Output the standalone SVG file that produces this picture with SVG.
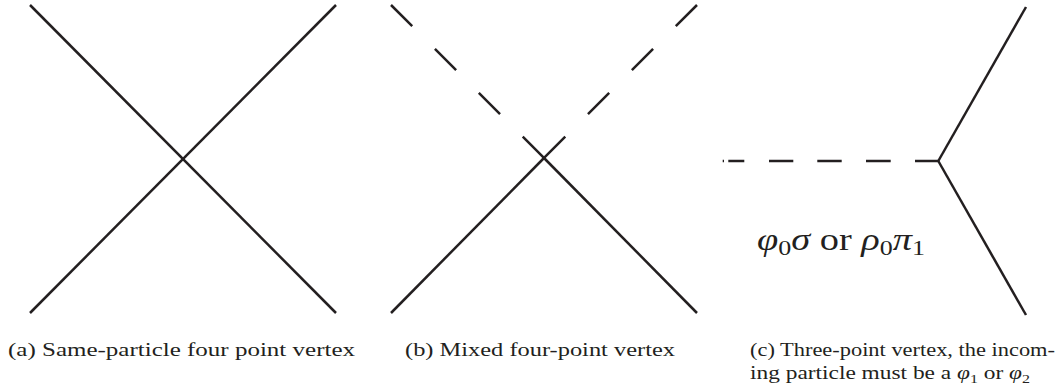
<svg xmlns="http://www.w3.org/2000/svg" width="1058" height="392" viewBox="0 0 1058 392">
<style>
.ln{stroke:#231f20;stroke-width:2.5;fill:none;stroke-linecap:butt}
.cap{font-family:"Liberation Serif","DejaVu Serif",serif;font-size:19px;fill:#231f20}
.lab{font-family:"Liberation Serif","DejaVu Serif",serif;font-size:31px;fill:#231f20}
.it{font-style:italic}
</style>
<rect width="1058" height="392" fill="#fff"/>
<g id="connectors">
  <g id="diagram-a">
    <path class="ln" d="M30 5 L336 313"/>
    <path class="ln" d="M336 5 L30 313"/>
  </g>
  <g id="diagram-b">
    <path class="ln" d="M391 5 L544 158" stroke-dasharray="30 32.1"/>
    <path class="ln" d="M697 5 L544 158" stroke-dasharray="30 32.1"/>
    <path class="ln" d="M544 158 L391 313"/>
    <path class="ln" d="M544 158 L697 313"/>
  </g>
  <g id="diagram-c">
    <path class="ln" d="M722.7 161 H724 M728.3 161 H744.3 M769 161 H793.3 M817.3 161 H841.7 M866 161 H890.7 M915 161 H938.3"/>
    <path class="ln" d="M938.3 161 L1026 7"/>
    <path class="ln" d="M938.3 161 L1026 315"/>
  </g>
</g>
<g id="label-c">
  <text class="lab" x="757" y="250" textLength="168" lengthAdjust="spacingAndGlyphs"><tspan class="it">φ</tspan><tspan font-size="21" dy="5">0</tspan><tspan class="it" dy="-5">σ</tspan> or <tspan class="it">ρ</tspan><tspan font-size="21" dy="5">0</tspan><tspan class="it" dy="-5">π</tspan><tspan font-size="21" dy="5">1</tspan></text>
</g>
<g id="caption-a">
  <text class="cap" x="8" y="356" textLength="347" lengthAdjust="spacingAndGlyphs">(a) Same-particle four point vertex</text>
</g>
<g id="caption-b">
  <text class="cap" x="405" y="356" textLength="270" lengthAdjust="spacingAndGlyphs">(b) Mixed four-point vertex</text>
</g>
<g id="caption-c">
  <text class="cap" x="750" y="356" textLength="305" lengthAdjust="spacingAndGlyphs">(c) Three-point vertex, the incom-</text>
  <text class="cap" x="750" y="379" textLength="280" lengthAdjust="spacingAndGlyphs">ing particle must be a <tspan class="it">φ</tspan><tspan font-size="13" dy="4">1</tspan><tspan dy="-4"> or </tspan><tspan class="it">φ</tspan><tspan font-size="13" dy="4">2</tspan></text>
</g>
</svg>
